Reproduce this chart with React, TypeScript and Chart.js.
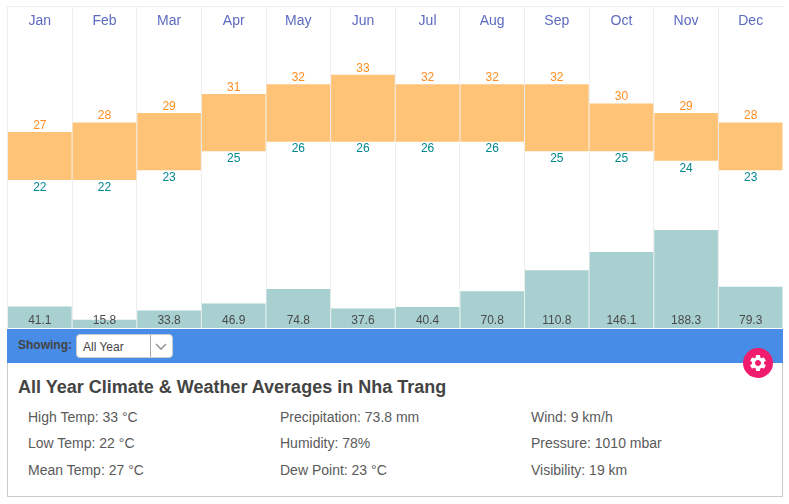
import React, { useEffect, useRef } from "react";
import { Chart, registerables } from "chart.js";

Chart.register(...registerables);

const months = ["Jan", "Feb", "Mar", "Apr", "May", "Jun", "Jul", "Aug", "Sep", "Oct", "Nov", "Dec"];
const highTemps = [27, 28, 29, 31, 32, 33, 32, 32, 32, 30, 29, 28];
const lowTemps = [22, 22, 23, 25, 26, 26, 26, 26, 25, 25, 24, 23];
const precipitation = [41.1, 15.8, 33.8, 46.9, 74.8, 37.6, 40.4, 70.8, 110.8, 146.1, 188.3, 79.3];
const summaryColumns = [
  ["High Temp: 33 °C", "Low Temp: 22 °C", "Mean Temp: 27 °C"],
  ["Precipitation: 73.8 mm", "Humidity: 78%", "Dew Point: 23 °C"],
  ["Wind: 9 km/h", "Pressure: 1010 mbar", "Visibility: 19 km"],
];
const columnLeft = [28, 280, 531];
const rowTop = [409, 435, 462];

const FONT = '"Liberation Sans", Arial, sans-serif';

const labelPlugin = {
  id: "barLabels",
  afterDatasetsDraw(chart: any) {
    const { ctx } = chart;
    ctx.save();
    ctx.font = `12px ${FONT}`;
    ctx.textAlign = "center";
    ctx.textBaseline = "middle";
    const tempBars = chart.getDatasetMeta(0).data;
    const rainBars = chart.getDatasetMeta(1).data;
    tempBars.forEach((bar: any, i: number) => {
      ctx.fillStyle = "#ff8c1f";
      ctx.fillText(String(highTemps[i]), bar.x, bar.y - 6.5);
      ctx.fillStyle = "#00868f";
      ctx.fillText(String(lowTemps[i]), bar.x, bar.base + 7.5);
    });
    rainBars.forEach((bar: any, i: number) => {
      ctx.fillStyle = "#4a4a4a";
      ctx.fillText(precipitation[i].toFixed(1), bar.x, chart.chartArea.bottom - 7.5);
    });
    ctx.restore();
  },
};

export default function App() {
  const ref = useRef<HTMLCanvasElement>(null);

  useEffect(() => {
    const chart = new Chart(ref.current as HTMLCanvasElement, {
      type: "bar",
      data: {
        labels: months,
        datasets: [
          {
            label: "Temperature",
            data: months.map((_, i) => [lowTemps[i], highTemps[i]]),
            backgroundColor: "#fec377",
            yAxisID: "y",
            grouped: false,
            barPercentage: 1,
            categoryPercentage: 0.985,
            order: 1,
          },
          {
            label: "Precipitation",
            data: precipitation,
            backgroundColor: "#a8d0d0",
            yAxisID: "y2",
            grouped: false,
            barPercentage: 1,
            categoryPercentage: 0.985,
            order: 2,
          },
        ] as any,
      },
      options: {
        animation: false,
        responsive: false,
        maintainAspectRatio: false,
        layout: { padding: { left: 0.5, right: 0, top: 0, bottom: 0 } },
        plugins: { legend: { display: false }, tooltip: { enabled: false } },
        scales: {
          x: {
            position: "top",
            afterFit: (scale: any) => {
              scale.height = 0;
              scale.paddingLeft = 0;
              scale.paddingRight = 0;
            },
            grid: { color: "#eeeeee", lineWidth: 1, drawTicks: false },
            border: { display: false },
            ticks: {
              mirror: true,
              padding: 7,
              maxRotation: 0,
              autoSkip: false,
              color: "#5c6bc0",
              font: { family: FONT, size: 14 },
            },
          },
          y: { display: false, min: 6.5, max: 40.2 },
          y2: { display: false, min: 0, max: 619 },
        },
      } as any,
      plugins: [labelPlugin],
    });
    return () => chart.destroy();
  }, []);

  const abs = (o: React.CSSProperties): React.CSSProperties => ({ position: "absolute", ...o });

  return (
    <div style={{ position: "absolute", left: 0, top: 0, width: 789, height: 504, background: "#fff", fontFamily: FONT, overflow: "hidden" }}>
      <div style={abs({ left: 7, top: 6, width: 776, height: 1, background: "#eeeeee" })} />
      <canvas ref={ref} width={776} height={322} style={abs({ left: 7, top: 6, width: 776, height: 322 })} />
      <div style={abs({ left: 7, top: 329, width: 776, height: 34, background: "#478ce6" })} />
      <div style={abs({ left: 18, top: 338, fontSize: 12, fontWeight: 700, color: "#444", lineHeight: "14px" })}>Showing:</div>
      <div style={abs({ left: 76, top: 334, width: 95, height: 22, background: "#fff", border: "1px solid #ccc", borderRadius: 4 })}>
        <div style={abs({ left: 6, top: 4, fontSize: 12, color: "#444", lineHeight: "16px" })}>All Year</div>
        <div style={abs({ left: 73, top: 0, width: 1, height: 22, background: "#aaa" })} />
        <svg width="12" height="8" style={{ position: "absolute", left: 78, top: 8 }}>
          <path d="M1 1 L6 6 L11 1" fill="none" stroke="#999" strokeWidth="1.6" />
        </svg>
      </div>
      <div style={abs({ left: 7, top: 363, width: 774, height: 133, borderLeft: "1px solid #ccc", borderRight: "1px solid #ccc", borderBottom: "1px solid #ccc" })} />
      <div style={abs({ left: 18, top: 377, fontSize: 18, fontWeight: 700, color: "#444", lineHeight: "20px", whiteSpace: "nowrap" })}>
        All Year Climate &amp; Weather Averages in Nha Trang
      </div>
      {summaryColumns.map((col, c) =>
        col.map((text, r) => (
          <div key={text} style={abs({ left: columnLeft[c], top: rowTop[r], fontSize: 14, color: "#5a5a5a", lineHeight: "16px", whiteSpace: "nowrap" })}>
            {text}
          </div>
        ))
      )}
      <div style={abs({ left: 743, top: 348, width: 30, height: 30, borderRadius: "50%", background: "#f01c6e" })}>
        <svg width="20" height="20" viewBox="0 0 24 24" style={{ position: "absolute", left: 5, top: 5 }}>
          <path fill="#fff" fillRule="evenodd" d="M19.14,12.94c0.04-0.3,0.06-0.61,0.06-0.94c0-0.32-0.02-0.64-0.07-0.94l2.03-1.58c0.18-0.14,0.23-0.41,0.12-0.61 l-1.92-3.32c-0.12-0.22-0.37-0.29-0.59-0.22l-2.39,0.96c-0.5-0.38-1.03-0.7-1.62-0.94L14.4,2.81c-0.04-0.24-0.24-0.41-0.48-0.41 h-3.84c-0.24,0-0.43,0.17-0.47,0.41L9.25,5.35C8.66,5.59,8.12,5.92,7.63,6.29L5.24,5.33c-0.22-0.08-0.47,0-0.59,0.22L2.74,8.87 C2.62,9.08,2.66,9.34,2.86,9.48l2.03,1.58C4.84,11.36,4.8,11.69,4.8,12s0.02,0.64,0.07,0.94l-2.03,1.58 c-0.18,0.14-0.23,0.41-0.12,0.61l1.92,3.32c0.12,0.22,0.37,0.29,0.59,0.22l2.39-0.96c0.5,0.38,1.03,0.7,1.62,0.94l0.36,2.54 c0.05,0.24,0.24,0.41,0.48,0.41h3.84c0.24,0,0.44-0.17,0.47-0.41l0.36-2.54c0.59-0.24,1.13-0.56,1.62-0.94l2.39,0.96 c0.22,0.08,0.47,0,0.59-0.22l1.92-3.32c0.12-0.22,0.07-0.47-0.12-0.61L19.14,12.94z M12,15.6c-1.98,0-3.6-1.62-3.6-3.6 s1.62-3.6,3.6-3.6s3.6,1.62,3.6,3.6S13.98,15.6,12,15.6z" />
        </svg>
      </div>
    </div>
  );
}
